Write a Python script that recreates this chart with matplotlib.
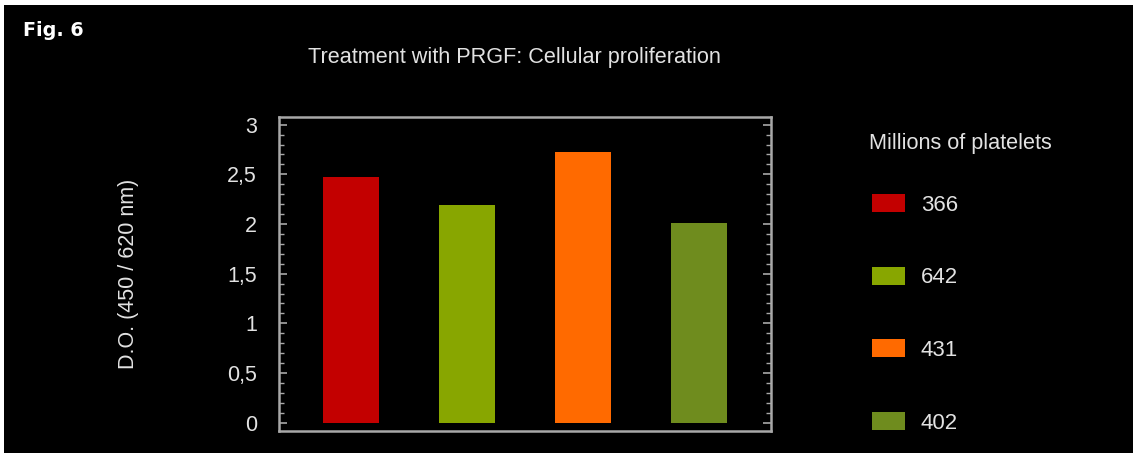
import numpy as np
import matplotlib
matplotlib.use("Agg")
import matplotlib.pyplot as plt
from matplotlib.patches import Rectangle
from matplotlib.ticker import MultipleLocator, FuncFormatter

# data
platelets = ["366", "642", "431", "402"]
optical_density = [2.47, 2.19, 2.72, 2.01]
bar_colors = ["#c30000", "#88a600", "#ff6a00", "#6f8c1e"]

W, H = 1133, 457
plt.rcParams['font.family'] = ['Liberation Sans', 'DejaVu Sans']
txt = "#e2e2e2"
axis_gray = "#a8a8a8"

fig = plt.figure(figsize=(W / 100, H / 100), dpi=100, facecolor="white")
# black panel inside a thin white border
fig.patches.append(Rectangle((4 / W, 1 - 453 / H), 1 - 4 / W, 448 / H,
                             transform=fig.transFigure, facecolor="black",
                             edgecolor="none", zorder=-5))

ax = fig.add_axes([279 / W, 1 - 431 / H, 492 / W, 314 / H])
ax.set_facecolor("black")

x = np.arange(len(platelets))
bars = ax.bar(x, optical_density, width=0.49, color=bar_colors, label=platelets)

ax.set_xlim(-0.62, 3.62)
ax.set_ylim(-0.084, 3.077)
ax.set_xticks([])
ax.yaxis.set_major_locator(MultipleLocator(0.5))
ax.yaxis.set_minor_locator(MultipleLocator(0.1))
ax.yaxis.set_major_formatter(FuncFormatter(lambda v, p: ("%g" % v).replace(".", ",")))
ax.tick_params(axis="y", which="both", direction="in", right=True, left=True,
               colors=axis_gray, labelcolor=txt, labelsize=15.5, pad=16)
ax.tick_params(axis="y", which="major", length=6, width=1.2)
ax.tick_params(axis="y", which="minor", length=3.5, width=1.0)
for s in ax.spines.values():
    s.set_color(axis_gray)
    s.set_linewidth(1.8)

ax.set_ylabel("D.O. (450 / 620 nm)", color=txt, fontsize=15.5, labelpad=63)

fig.text(514 / W, 1 - 58 / H, "Treatment with PRGF: Cellular proliferation",
         color=txt, fontsize=15.6, ha="center", va="center")
fig.text(23 / W, 1 - 30 / H, "Fig. 6", color="white", fontsize=13.8,
         fontweight="bold", family="DejaVu Sans", ha="left", va="center")

fig.text(869 / W, 1 - 143 / H, "Millions of platelets", color=txt,
         fontsize=15.6, ha="left", va="center")
leg = fig.legend(handles=list(bars), labels=platelets, loc="upper left",
                 bbox_to_anchor=(872 / W, 1 - 194 / H), frameon=False,
                 fontsize=16, labelcolor=txt, borderpad=0, borderaxespad=0,
                 handlelength=1.5, handleheight=0.86, handletextpad=0.7,
                 labelspacing=2.3)

fig.savefig("out.png", dpi=100, facecolor="white")
